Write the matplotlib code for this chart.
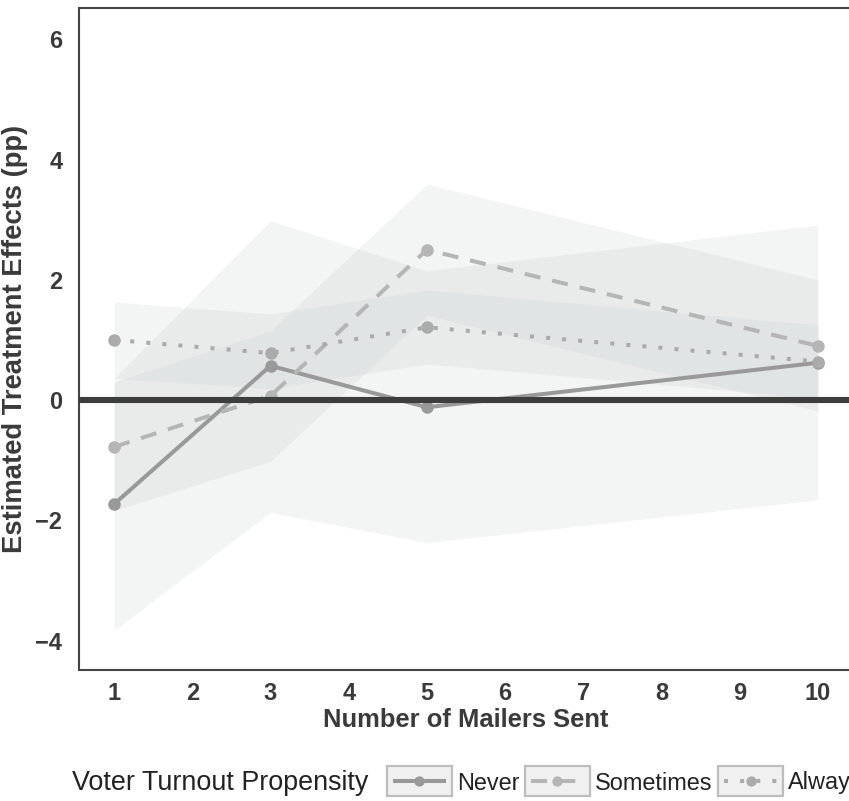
import numpy as np
import matplotlib
matplotlib.use("Agg")
import matplotlib.pyplot as plt
from matplotlib.legend_handler import HandlerLine2D
from matplotlib.patches import Rectangle
from matplotlib.lines import Line2D

plt.rcParams['font.family'] = ['Liberation Sans', 'DejaVu Sans']

mailers = [1, 3, 5, 10]
groups = ['Never', 'Sometimes', 'Always']

est_never = [-1.73, 0.57, -0.12, 0.62]
lo_never = [-3.83, -1.87, -2.37, -1.66]
hi_never = [0.36, 2.98, 2.15, 2.91]

est_sometimes = [-0.78, 0.07, 2.50, 0.90]
lo_sometimes = [-1.84, -1.02, 1.41, -0.18]
hi_sometimes = [0.30, 1.15, 3.59, 2.00]

est_always = [1.00, 0.78, 1.21, 0.64]
lo_always = [0.36, 0.19, 0.60, 0.03]
hi_always = [1.63, 1.43, 1.83, 1.25]

estimates = [est_never, est_sometimes, est_always]
lows = [lo_never, lo_sometimes, lo_always]
highs = [hi_never, hi_sometimes, hi_always]

line_cols = ['#999999', '#b5b5b5', '#ababab']
dashes = [None, (4, 3), (1, 3)]


class BoxedLine(HandlerLine2D):
    # legend key with grey box behind, like ggplot
    def create_artists(self, legend, orig_handle, xdescent, ydescent,
                       width, height, fontsize, trans):
        arts = super().create_artists(legend, orig_handle, xdescent, ydescent,
                                      width, height, fontsize, trans)
        p = 4.4
        bh = 21.6
        cy = -ydescent + height / 2
        box = Rectangle((-xdescent - p, cy - bh / 2), width + 2 * p, bh,
                        facecolor='#f0f0f0', edgecolor='#bdbdbd', lw=1.6,
                        transform=trans)
        return [box] + arts


fig = plt.figure(figsize=(8.49, 8.01), dpi=100)
ax = fig.add_axes([79 / 849, 1 - 670 / 801, (853 - 79) / 849, (670 - 8) / 801])

x = np.array(mailers)
for i in range(3):
    ax.fill_between(x, lows[i], highs[i], color='#c4c8c8', alpha=0.2,
                    lw=0, zorder=1)

handles = []
for i in range(3):
    kw = dict(color=line_cols[i], lw=2.9, marker='o', markersize=8,
              solid_capstyle='butt', dash_capstyle='butt', zorder=3)
    if dashes[i] is None:
        ln, = ax.plot(x, estimates[i], **kw)
    else:
        ln, = ax.plot(x, estimates[i], dashes=dashes[i], **kw)
    handles.append(ln)

ax.axhline(0, color='#3d3d3d', lw=4.4, zorder=5)

ax.set_xlim(0.55, 10.45)
ax.set_ylim(-4.49, 6.52)
ax.set_xticks(range(1, 11))
ax.set_yticks([-4, -2, 0, 2, 4, 6])
ax.set_yticklabels(['\u22124', '\u22122', '0', '2', '4', '6'])
ax.tick_params(length=0, labelsize=17, labelcolor='#3a3a3a')
ax.tick_params(axis='x', pad=9)
ax.tick_params(axis='y', pad=12)
for lab in ax.get_xticklabels() + ax.get_yticklabels():
    lab.set_fontweight('bold')
for s in ['left', 'top', 'bottom', 'right']:
    ax.spines[s].set_color('#444444')
    ax.spines[s].set_linewidth(1.5)

ax.set_xlabel('Number of Mailers Sent', fontsize=18.4, fontweight='bold',
              color='#3a3a3a', labelpad=2)
ax.set_ylabel('Estimated Treatment Effects (pp)', fontsize=19.7, fontweight='bold',
              color='#3a3a3a', labelpad=5)

fig.text(72 / 849, 1 - 783 / 801, 'Voter Turnout Propensity', fontsize=19.4,
         color='#222222', ha='left', va='center')
leg = fig.legend(handles, groups, loc='center left',
                 bbox_to_anchor=(393 / 849, 1 - 783 / 801), ncol=3,
                 frameon=False, fontsize=16.9, handlelength=2.25,
                 handletextpad=0.47, columnspacing=0.5, borderpad=0,
                 borderaxespad=0, numpoints=1, markerscale=0.8,
                 handler_map={Line2D: BoxedLine()})
for t in leg.get_texts():
    t.set_color('#222222')

fig.savefig('out.png', dpi=100)
